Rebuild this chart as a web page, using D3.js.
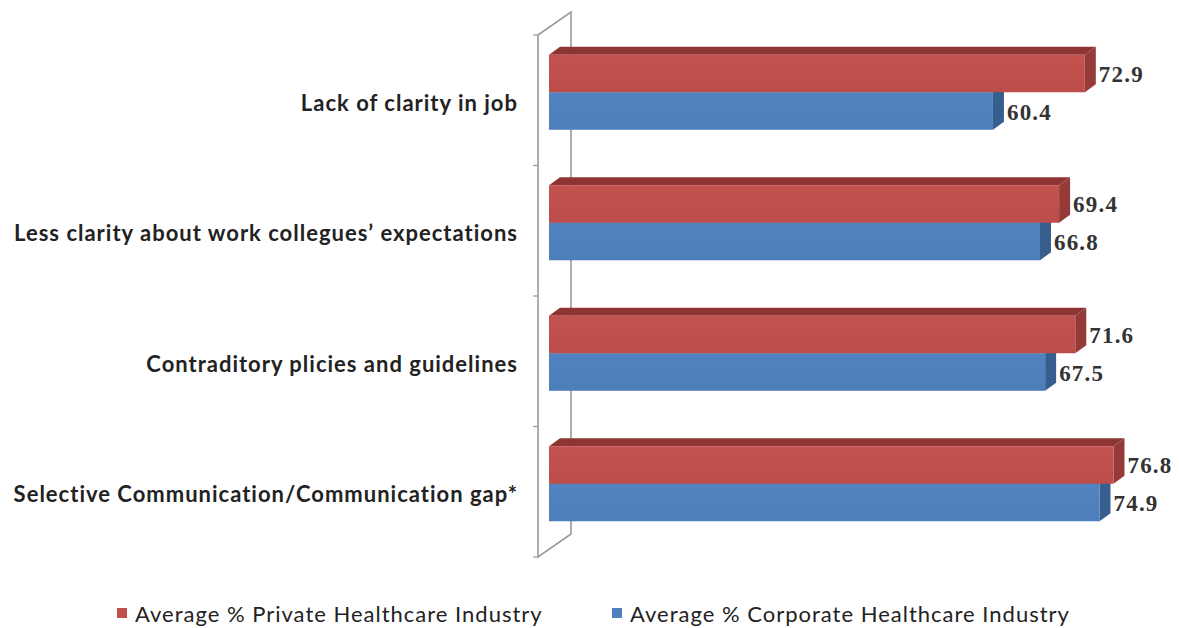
<!DOCTYPE html>
<html>
<head>
<meta charset="utf-8">
<script src="https://cdn.jsdelivr.net/npm/d3@7"></script>
<style>
  html, body { margin: 0; padding: 0; background: #fff; }
  svg { display: block; }
</style>
</head>
<body>
<svg id="chart" width="1179" height="628"></svg>
<script>
// Categories, top to bottom
const categories = [
  "Lack of clarity in job",
  "Less clarity about work collegues\u2019 expectations",
  "Contraditory plicies and guidelines",
  "Selective Communication/Communication gap*"
];
const seriesNames = [
  "Average % Private Healthcare Industry",
  "Average % Corporate Healthcare Industry"
];
const privateValues = [72.9, 69.4, 71.6, 76.8];
const corporateValues = [60.4, 66.8, 67.5, 74.9];

const colors = {
  private:   { front: "#C0504D", top: "#8E3533", side: "#943B39" },
  corporate: { front: "#4F81BD", top: "#3A6497", side: "#365E8E" }
};

const svg = d3.select("#chart");

// Front plane of the side wall
const wallX = 538, wallTop = 35, wallBottom = 557;
// Depth of the wall and of each bar (3D offsets)
const wallDX = 33, wallDY = -23;
const barDX = 11, barDY = -8;

const y = d3.scaleBand()
  .domain(categories)
  .range([wallTop, wallBottom])
  .paddingInner(0.425)
  .paddingOuter(0.2125);

const ySeries = d3.scaleBand()
  .domain(["private", "corporate"])
  .range([0, y.bandwidth()]);

const x = d3.scaleLinear().domain([0, 80]).range([wallX, wallX + 588]);

// Side wall outline
const wall = svg.append("g").attr("fill", "none").attr("stroke", "#9a9a9a").attr("stroke-width", 1.6);
wall.append("path").attr("d",
  `M${wallX},${wallTop} L${wallX + wallDX},${wallTop + wallDY} L${wallX + wallDX},${wallBottom + wallDY} L${wallX},${wallBottom} Z`);
// Category ticks on the front edge
const tickYs = [wallTop, ...categories.map((c, i) => wallTop + (i + 1) * y.step())];
wall.selectAll("line.tick").data(tickYs).join("line")
  .attr("x1", wallX - 5).attr("x2", wallX)
  .attr("y1", d => d).attr("y2", d => d)
  .attr("stroke-width", 1.2);

// Subtle vertical shading on front faces
const defs = svg.append("defs");
function grad(id, c1, c2) {
  const g = defs.append("linearGradient").attr("id", id)
    .attr("x1", 0).attr("y1", 0).attr("x2", 0).attr("y2", 1);
  g.append("stop").attr("offset", "0%").attr("stop-color", c1);
  g.append("stop").attr("offset", "100%").attr("stop-color", c2);
}
grad("gPrivate", "#C4524F", "#BC4D4A");
grad("gCorporate", "#5083C0", "#4C7EBA");

const rows = categories.map((c, i) => ({
  cat: c,
  bars: [
    { key: "corporate", value: corporateValues[i], fill: "url(#gCorporate)" },
    { key: "private", value: privateValues[i], fill: "url(#gPrivate)" }
  ]
}));

const bars = svg.append("g");
rows.forEach(row => {
  row.bars.forEach(b => {
    const x0 = x(0) + barDX;
    const x1 = x(b.value) + barDX;
    const y0 = y(row.cat) + ySeries(b.key) + barDY;
    const y1 = y0 + ySeries.bandwidth();
    const col = colors[b.key];
    const g = bars.append("g");
    g.append("polygon")
      .attr("points", [[x0, y0], [x0 + barDX, y0 + barDY], [x1 + barDX, y0 + barDY], [x1, y0]].join(" "))
      .attr("fill", col.top);
    g.append("polygon")
      .attr("points", [[x1, y0], [x1 + barDX, y0 + barDY], [x1 + barDX, y1 + barDY], [x1, y1]].join(" "))
      .attr("fill", col.side);
    g.append("rect")
      .attr("x", x0).attr("y", y0)
      .attr("width", x1 - x0).attr("height", y1 - y0)
      .attr("fill", b.fill);
    g.append("text")
      .attr("x", x1 + barDX + 3)
      .attr("y", (y0 + y1) / 2 + 1)
      .attr("dominant-baseline", "central")
      .attr("font-family", "'Liberation Serif', 'DejaVu Serif', serif")
      .attr("font-weight", "bold")
      .attr("font-size", 23)
      .attr("letter-spacing", 1.2)
      .attr("fill", "#333")
      .text(b.value.toFixed(1));
  });
});

// Category labels
svg.append("g").selectAll("text").data(categories).join("text")
  .attr("x", 518)
  .attr("y", d => y(d) + y.bandwidth() / 2 + 2)
  .attr("text-anchor", "end")
  .attr("dominant-baseline", "central")
  .attr("font-family", "Lato, 'Open Sans', sans-serif")
  .attr("font-weight", "bold")
  .attr("font-size", 22)
  .attr("letter-spacing", 1.0)
  .attr("fill", "#222")
  .text(d => d);

// Legend
const legendItems = [
  { name: seriesNames[0], color: colors.private.front, x: 117 },
  { name: seriesNames[1], color: colors.corporate.front, x: 612 }
];
const legend = svg.append("g");
legendItems.forEach(it => {
  legend.append("rect").attr("x", it.x).attr("y", 608).attr("width", 10).attr("height", 10).attr("fill", it.color);
  legend.append("text")
    .attr("x", it.x + 18).attr("y", 622)
    .attr("font-family", "Lato, 'Open Sans', sans-serif")
    .attr("font-size", 22)
    .attr("letter-spacing", 1.0)
    .attr("fill", "#222")
    .text(it.name);
});
</script>
</body>
</html>
